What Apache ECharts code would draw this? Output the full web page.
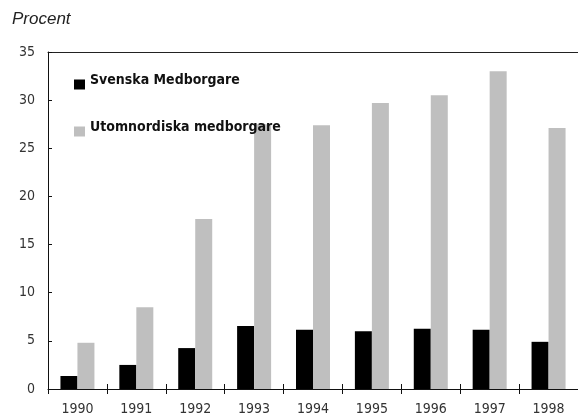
<!DOCTYPE html>
<html>
<head>
<meta charset="utf-8">
<script src="https://cdn.jsdelivr.net/npm/echarts@6/dist/echarts.min.js"></script>
<style>
  html, body { margin: 0; padding: 0; background: #fff; }
  #chart { width: 578px; height: 419px; }
</style>
</head>
<body>
<div id="chart"></div>
<script>
// data (percent)
const years = ['1990', '1991', '1992', '1993', '1994', '1995', '1996', '1997', '1998'];
const svenska = [1.35, 2.5, 4.25, 6.55, 6.15, 6.0, 6.25, 6.15, 4.9];
const utomnordiska = [4.8, 8.5, 17.65, 27.5, 27.4, 29.7, 30.5, 33.0, 27.1];
const yTicks = { min: 0, max: 35, interval: 5 };

const narrow = '"DejaVu Sans Condensed", "Liberation Sans Narrow", sans-serif';

const chart = echarts.init(document.getElementById('chart'));
chart.setOption({
  animation: false,
  backgroundColor: '#fff',
  title: {
    text: 'Procent',
    left: 7,
    top: 6,
    textStyle: { fontFamily: '"Liberation Sans", Arial, sans-serif', fontStyle: 'italic', fontWeight: 'normal', fontSize: 17, color: '#222' }
  },
  legend: {
    orient: 'vertical',
    left: 69,
    top: 68,
    icon: 'rect',
    itemWidth: 11,
    itemHeight: 10,
    itemGap: 24,
    selectedMode: false,
    formatter: '{a|{name}}',
    textStyle: {
      rich: {
        a: { fontFamily: narrow, fontWeight: 'bold', fontSize: 14, lineHeight: 16, color: '#111', padding: [0, 0, 9, 0] }
      }
    },
    data: ['Svenska Medborgare', 'Utomnordiska medborgare']
  },
  grid: { left: 48, top: 52, width: 533, bottom: 30, containLabel: false },
  xAxis: [
    {
      type: 'category',
      data: years,
      position: 'bottom',
      axisLine: { lineStyle: { color: '#111', width: 1 } },
      axisTick: { show: true, length: 5, lineStyle: { color: '#111' } },
      axisLabel: { fontFamily: narrow, fontSize: 14, color: '#333', margin: 13 }
    },
    {
      // top frame line
      type: 'category',
      data: years,
      position: 'top',
      axisLine: { lineStyle: { color: '#222', width: 1 } },
      axisTick: { show: false },
      axisLabel: { show: false }
    },
    {
      // upper half of the crossing ticks
      type: 'category',
      data: years,
      position: 'bottom',
      offset: 0,
      axisLine: { show: false },
      axisTick: { show: true, inside: true, length: 5, lineStyle: { color: '#111' } },
      axisLabel: { show: false }
    }
  ],
  yAxis: {
    type: 'value',
    min: yTicks.min,
    max: yTicks.max,
    interval: yTicks.interval,
    axisLine: { show: true, lineStyle: { color: '#111', width: 1 } },
    axisTick: { show: true, inside: true, length: 4, lineStyle: { color: '#111' } },
    splitLine: { show: false },
    axisLabel: { fontFamily: narrow, fontSize: 14, color: '#333', margin: 13 }
  },
  series: [
    {
      name: 'Svenska Medborgare',
      type: 'bar',
      data: svenska,
      barWidth: 17,
      barGap: '0%',
      itemStyle: { color: '#000' }
    },
    {
      name: 'Utomnordiska medborgare',
      type: 'bar',
      data: utomnordiska,
      barWidth: 17,
      barGap: '0%',
      itemStyle: { color: '#bfbfbf' }
    }
  ]
});
</script>
</body>
</html>
